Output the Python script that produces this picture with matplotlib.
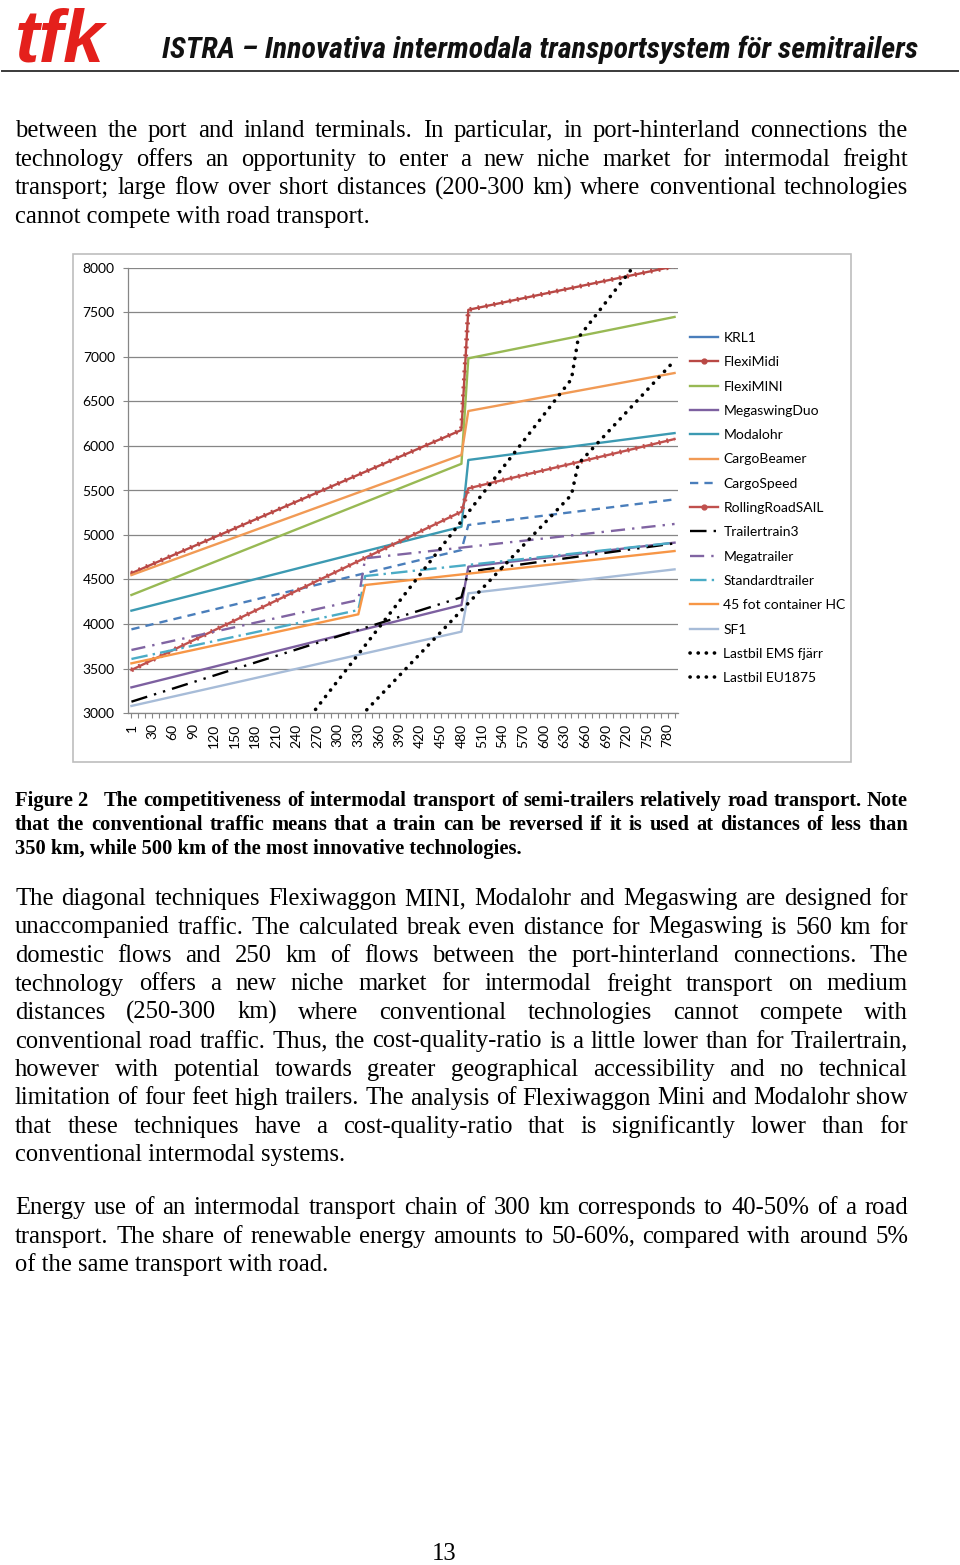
import numpy as np
import matplotlib
matplotlib.use("Agg")
import matplotlib.pyplot as plt
from matplotlib import font_manager
from matplotlib.lines import Line2D
from matplotlib.patches import Rectangle

B, H = 960, 1565  # sidans storlek i pixlar

# kategoriaxel (km) och brytpunkter för kurvorna
KATEGORIER = [1] + list(range(10, 800, 10))
KM_480 = [1, 480, 490, 790]
KM_330 = [1, 330, 340, 790]
KM_LASTBIL = [1, 640, 650, 790]

# kostnader
KRL1 = []  # syns inte inom 3000-8000
FLEXIMIDI = [4570, 6180, 7530, 8020]
FLEXIMINI = [4326, 5800, 6985, 7450]
MEGASWINGDUO = [3288, 4213, 4644, 4914]
MODALOHR = [4150, 5093, 5843, 6145]
CARGOBEAMER = [4550, 5899, 6393, 6820]
CARGOSPEED = [3940, 4831, 5112, 5400]
ROLLINGROADSAIL = [3483, 5262, 5524, 6078]
TRAILERTRAIN3 = [3127, 4300, 4588, 4906]
MEGATRAILER = [3708, 4270, 4738, 5124]
STANDARDTRAILER = [3607, 4157, 4539, 4914]
CONTAINER45 = [3558, 4109, 4438, 4820]
SF1 = [3079, 3914, 4345, 4614]
LASTBIL_EMS = [370, 6751, 7216, 8610]
LASTBIL_EU1875 = [259, 5451, 5800, 6960]

Y_TICKS = list(range(3000, 8001, 500))

P1 = [
    "between the port and inland terminals. In particular, in port-hinterland connections the",
    "technology offers an opportunity to enter a new niche market for intermodal freight",
    "transport; large flow over short distances (200-300 km) where conventional technologies",
    "cannot compete with road transport.",
]
CAPTION = [
    "The competitiveness of intermodal transport of semi-trailers relatively road transport. Note",
    "that the conventional traffic means that a train can be reversed if it is used at distances of less than",
    "350 km, while 500 km of the most innovative technologies.",
]
P2 = [
    "The diagonal techniques Flexiwaggon MINI, Modalohr and Megaswing are designed for",
    "unaccompanied traffic. The calculated break even distance for Megaswing is 560 km for",
    "domestic flows and 250 km of flows between the port-hinterland connections. The",
    "technology offers a new niche market for intermodal freight transport on medium",
    "distances (250-300 km) where conventional technologies cannot compete with",
    "conventional road traffic. Thus, the cost-quality-ratio is a little lower than for Trailertrain,",
    "however with potential towards greater geographical accessibility and no technical",
    "limitation of four feet high trailers. The analysis of Flexiwaggon Mini and Modalohr show",
    "that these techniques have a cost-quality-ratio that is significantly lower than for",
    "conventional intermodal systems.",
]
P3 = [
    "Energy use of an intermodal transport chain of 300 km corresponds to 40-50% of a road",
    "transport. The share of renewable energy amounts to 50-60%, compared with around 5%",
    "of the same transport with road.",
]


def pos(km):
    # kategoriindex: 1 km -> 0, 10 km -> 1, ...
    return [0 if k == 1 else k / 10 for k in km]


def fy(y):
    return 1 - y / H


# smal sans-serif till sidhuvudet om en sådan finns
smal = ("Liberation Sans", "normal")
for f in font_manager.fontManager.ttflist:
    if f.name in ("Liberation Sans Narrow", "Roboto Condensed", "Open Sans Condensed"):
        smal = (f.name, "normal")
        break
    if f.name in ("DejaVu Sans", "Liberation Sans") and f.stretch == "condensed":
        smal = (f.name, "condensed")

fig = plt.figure(figsize=(B / 100, H / 100), dpi=100)
fig.patch.set_facecolor("white")
r = fig.canvas.get_renderer()

# sidhuvud
logga = fig.text(15 / B, fy(61), "tfk", fontsize=52, color="#E4201C", fontweight="heavy",
                 style="italic", family="Liberation Sans", va="baseline")
lb = logga.get_window_extent(r).width
logga.set_fontsize(52 * 90 / lb)

rubrik = fig.text(918 / B, fy(58), "ISTRA \u2013 Innovativa intermodala transportsystem f\u00f6r semitrailers",
                  fontsize=18, fontweight="bold", style="italic", family=smal[0],
                  fontstretch=smal[1], ha="right", va="baseline", color="#111111")
rb = rubrik.get_window_extent(r).width
rubrik.set_fontsize(18 * 755 / rb)
fig.add_artist(Line2D([2 / B, 958 / B], [fy(71), fy(71)], color="#3a3a3a", lw=1.4))


def justera(rader, y0, steg, storlek, vikt="normal", x0=15, x1=908, forsta_x=None):
    for i, rad in enumerate(rader):
        y = fy(y0 + i * steg)
        start = x0 if (i > 0 or forsta_x is None) else forsta_x
        if i == len(rader) - 1:
            fig.text(start / B, y, rad, fontsize=storlek, fontweight=vikt,
                     family="Liberation Serif", va="baseline")
            continue
        ord_ = rad.split()
        txt = [fig.text(0, y, o, fontsize=storlek, fontweight=vikt,
                        family="Liberation Serif", va="baseline") for o in ord_]
        bredd = [t.get_window_extent(r).width for t in txt]
        mellan = (x1 - start - sum(bredd)) / (len(ord_) - 1)
        x = start
        for t, b in zip(txt, bredd):
            t.set_x(x / B)
            x += b + mellan


justera(P1, 137, 28.6, 17.7)
fig.text(15 / B, fy(806), "Figure 2", fontsize=14.8, fontweight="bold",
         family="Liberation Serif", va="baseline")
justera(CAPTION, 806, 24, 14.8, vikt="bold", forsta_x=104)
justera(P2, 905, 28.5, 17.7)
justera(P3, 1214, 28.6, 17.7)
fig.text(444 / B, fy(1560), "13", fontsize=17.7, family="Liberation Serif",
         ha="center", va="baseline")

# diagramram
fig.add_artist(Rectangle((73 / B, fy(762)), 778 / B, 508 / H, transform=fig.transFigure,
                         fill=False, edgecolor="#BDBDBD", lw=1.2))

ax = fig.add_axes([128 / B, fy(713), 550 / B, 445 / H])
ax.set_xlim(-0.5, len(KATEGORIER) - 0.5)
ax.set_ylim(3000, 8000)

PRICK = (0, (0.05, 2.2))
serier = [
    ("KRL1", [], KRL1, "#4A7EBB", "-", False),
    ("FlexiMidi", KM_480, FLEXIMIDI, "#B94845", "-", True),
    ("FlexiMINI", KM_480, FLEXIMINI, "#98B954", "-", False),
    ("MegaswingDuo", KM_480, MEGASWINGDUO, "#7D60A0", "-", False),
    ("Modalohr", KM_480, MODALOHR, "#3C9AB2", "-", False),
    ("CargoBeamer", KM_480, CARGOBEAMER, "#F19A55", "-", False),
    ("CargoSpeed", KM_480, CARGOSPEED, "#4A7EBB", (0, (3.5, 2.6)), False),
    ("RollingRoadSAIL", KM_480, ROLLINGROADSAIL, "#C0504D", "-", True),
    ("Trailertrain3", KM_480, TRAILERTRAIN3, "#000000", (0, (7, 3, 1, 3, 1, 3)), False),
    ("Megatrailer", KM_330, MEGATRAILER, "#8064A2", (0, (6, 3, 1, 3)), False),
    ("Standardtrailer", KM_330, STANDARDTRAILER, "#4BACC6", (0, (7, 2.2, 1, 2.2)), False),
    ("45 fot container HC", KM_330, CONTAINER45, "#F79646", "-", False),
    ("SF1", KM_480, SF1, "#A7BCD8", "-", False),
    ("Lastbil EMS fj\u00e4rr", KM_LASTBIL, LASTBIL_EMS, "#000000", PRICK, False),
    ("Lastbil EU1875", KM_LASTBIL, LASTBIL_EU1875, "#000000", PRICK, False),
]

handtag = []
for namn, km, v, farg, stil, parlor in serier:
    prickar = stil == PRICK
    lw = 2.6 if prickar else 1.7
    if v:
        ax.plot(pos(km), v, color=farg, ls=stil, lw=lw,
                dash_capstyle="round" if prickar else "butt", zorder=3)
        if parlor:
            ax.plot(pos(km), v, color=farg, ls=(0, (0.4, 1.3)), lw=3.4, zorder=3)
    handtag.append(Line2D([], [], color=farg, ls=stil, lw=lw,
                          dash_capstyle="round" if prickar else "butt",
                          marker="o" if parlor else None, ms=3.5))

ax.set_yticks(Y_TICKS)
ax.set_xticks(range(len(KATEGORIER)))
ax.set_xticklabels([str(k) if i % 3 == 0 else "" for i, k in enumerate(KATEGORIER)],
                   rotation=90, family="Lato", fontsize=10)
ax.set_yticklabels([str(t) for t in Y_TICKS], family="Lato", fontsize=10)
ax.tick_params(axis="x", length=3.5, width=0.8, color="#868686", pad=4)
ax.tick_params(axis="y", length=3.5, width=0.8, color="#868686", pad=6)
ax.grid(axis="y", color="#868686", lw=0.9)
ax.set_axisbelow(True)
for s in ["top", "right"]:
    ax.spines[s].set_visible(False)
for s in ["left", "bottom"]:
    ax.spines[s].set_color("#868686")
    ax.spines[s].set_linewidth(0.9)

fig.legend(handtag, [s[0] for s in serier], loc="upper left",
           bbox_to_anchor=(690 / B, fy(332)), frameon=False, prop={"family": "Lato", "size": 10},
           labelspacing=0.885, handlelength=2.0, handletextpad=0.4, borderpad=0, borderaxespad=0)

fig.savefig("out.png", dpi=100)
